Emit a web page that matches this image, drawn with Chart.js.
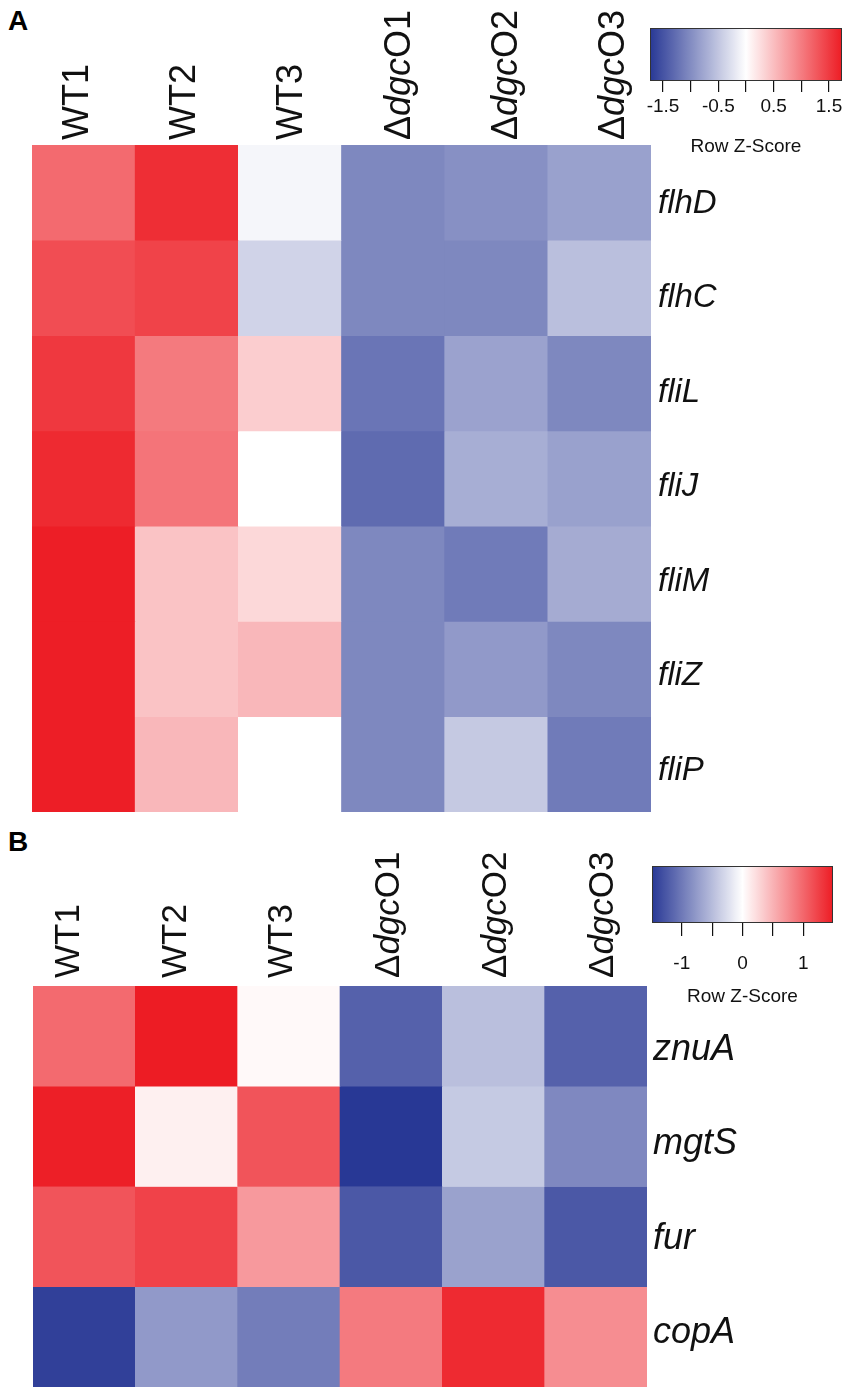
<!DOCTYPE html>
<html>
<head>
<meta charset="utf-8">
<script src="https://cdn.jsdelivr.net/npm/chart.js@4.4.1/dist/chart.umd.min.js"></script>
<style>
  html, body { margin: 0; padding: 0; background: #fff; }
  body { width: 851px; height: 1396px; position: relative; overflow: hidden; }
  canvas { position: absolute; }
  .tag { position: absolute; left: 8px; font: bold 28px "Liberation Sans", Arial, sans-serif; color: #000; line-height: 1; }
</style>
</head>
<body>
<div class="tag" style="top:7px">A</div>
<div class="tag" style="top:828px">B</div>

<canvas id="heatA" width="851" height="830" style="left:0;top:0"></canvas>
<canvas id="keyA" width="211" height="158" style="left:640px;top:0"></canvas>
<canvas id="heatB" width="851" height="566" style="left:0;top:830px"></canvas>
<canvas id="keyB" width="211" height="168" style="left:640px;top:840px"></canvas>

<script>
const FONT = '"Liberation Sans", Arial, sans-serif';

// columns (samples)
const samples = ["WT1", "WT2", "WT3", "\u0394dgcO1", "\u0394dgcO2", "\u0394dgcO3"];

// panel A: flagellar genes, row z-scores
const genesA = ["flhD", "flhC", "fliL", "fliJ", "fliM", "fliZ", "fliP"];
const flhD = [1.14, 1.60, -0.08, -1.04, -0.97, -0.82];
const flhC = [1.36, 1.44, -0.38, -1.04, -1.04, -0.56];
const fliL = [1.52, 1.02, 0.38, -1.20, -0.81, -1.04];
const fliJ = [1.63, 1.06, 0.00, -1.29, -0.71, -0.82];
const fliM = [1.72, 0.46, 0.30, -1.04, -1.15, -0.73];
const fliZ = [1.72, 0.46, 0.55, -1.04, -0.89, -1.04];
const fliP = [1.72, 0.55, 0.00, -1.04, -0.47, -1.15];
const zMaxA = 1.735;
const keyTicksA = [-1.5, -1, -0.5, 0, 0.5, 1, 1.5];

// panel B: metal homeostasis genes, row z-scores
const genesB = ["znuA", "mgtS", "fur", "copA"];
const znuA = [0.98, 1.49, 0.04, -1.18, -0.48, -1.18];
const mgtS = [1.47, 0.10, 1.12, -1.49, -0.40, -0.89];
const fur  = [1.12, 1.24, 0.67, -1.25, -0.70, -1.25];
const copA = [-1.43, -0.76, -0.97, 0.87, 1.40, 0.75];
const zMaxB = 1.49;
const keyTicksB = [-1, -0.5, 0, 0.5, 1];

// blue - white - red ramp
const LOW = [40, 56, 149], MID = [255, 255, 255], HIGH = [237, 28, 36];
function zColor(v, zmax) {
  let t = Math.max(-1, Math.min(1, v / zmax));
  const end = t < 0 ? LOW : HIGH;
  t = Math.abs(t);
  const c = MID.map((m, k) => Math.round(m + (end[k] - m) * t));
  return `rgb(${c[0]},${c[1]},${c[2]})`;
}

// sample label with italic gene name
function drawSampleLabel(ctx, text, size) {
  const m = text.match(/^(\u0394)(dgc)(.*)$/);
  const parts = m ? [[m[1], ""], [m[2], "italic "], [m[3], ""]] : [[text, ""]];
  let x = 0;
  parts.forEach(([t, st]) => {
    ctx.font = `${st}${size}px ${FONT}`;
    ctx.fillText(t, x, 0);
    x += ctx.measureText(t).width;
  });
}

const labelPlugin = {
  id: "heatLabels",
  afterDraw(chart, args, o) {
    const { ctx, chartArea, scales: { x, y } } = chart;
    ctx.save();
    ctx.fillStyle = "#111";
    ctx.textAlign = "left";
    ctx.textBaseline = "alphabetic";
    samples.forEach((s, i) => {
      const px = x.getPixelForValue(i * o.colStep) + o.colShift;
      ctx.save();
      ctx.translate(px, chartArea.top - o.colGap);
      ctx.rotate(-Math.PI / 2);
      drawSampleLabel(ctx, s, o.colFont);
      ctx.restore();
    });
    ctx.font = `italic ${o.rowFont}px ${FONT}`;
    o.genes.forEach((g, i) => {
      ctx.fillText(g, chartArea.right + o.rowGap, y.getPixelForValue(0.5 + i * o.rowStep) + o.rowShift);
    });
    ctx.restore();
  }
};

function heatmap(id, genes, rows, zmax, pad, lab) {
  const datasets = rows.map((vals, i) => ({
    label: genes[i],
    data: vals.map(() => 1),
    backgroundColor: vals.map(v => zColor(v, zmax)),
    borderWidth: 0,
    barPercentage: 1,
    categoryPercentage: 1
  }));
  return new Chart(document.getElementById(id), {
    type: "bar",
    data: { labels: samples, datasets },
    options: {
      responsive: false,
      animation: false,
      layout: { padding: pad },
      plugins: {
        legend: { display: false },
        tooltip: { enabled: false },
        heatLabels: Object.assign({ genes }, lab)
      },
      scales: {
        x: { display: false, stacked: true },
        y: { display: false, stacked: true, min: 0, max: genes.length, reverse: true }
      }
    },
    plugins: [labelPlugin]
  });
}

const keyPlugin = {
  id: "keyFill",
  beforeDatasetsDraw(chart, args, o) {
    const { ctx, chartArea: a, scales: { x } } = chart;
    const g = ctx.createLinearGradient(a.left, 0, a.right, 0);
    const n = 60;
    for (let k = 0; k <= n; k++) {
      const v = x.min + (x.max - x.min) * k / n;
      g.addColorStop(k / n, zColor(v, o.zmax));
    }
    ctx.save();
    ctx.fillStyle = g;
    ctx.fillRect(a.left, a.top, a.width, a.height);
    ctx.strokeStyle = "#333";
    ctx.lineWidth = 1;
    ctx.strokeRect(a.left + 0.5, a.top + 0.5, a.width - 1, a.height - 1);
    ctx.restore();
  }
};

function colorKey(id, zmax, ticks, fmt, pad, axisH, tickLen, tickPad) {
  return new Chart(document.getElementById(id), {
    type: "scatter",
    data: { datasets: [{ data: [] }] },
    options: {
      responsive: false,
      animation: false,
      layout: { padding: pad },
      plugins: { legend: { display: false }, tooltip: { enabled: false }, keyFill: { zmax } },
      scales: {
        x: {
          type: "linear",
          min: -zmax,
          max: zmax,
          afterBuildTicks: s => { s.ticks = ticks.map(v => ({ value: v })); },
          afterFit: s => { s.height = axisH; },
          grid: { display: true, drawOnChartArea: false, drawTicks: true, tickLength: tickLen, color: "#111", lineWidth: 1.2 },
          border: { display: false },
          ticks: { autoSkip: false, maxRotation: 0, padding: tickPad, color: "#111", font: { size: 19, family: FONT }, callback: fmt },
          title: { display: true, text: "Row Z-Score", color: "#111", font: { size: 19, family: FONT }, padding: 0 }
        },
        y: { display: false, min: 0, max: 1 }
      }
    },
    plugins: [keyPlugin]
  });
}

heatmap("heatA", genesA, [flhD, flhC, fliL, fliJ, fliM, fliZ, fliP], zMaxA,
  { left: 32, top: 145, right: 200, bottom: 18 },
  { colStep: 1.039, colShift: 4.5, colGap: 5, colFont: 36, rowFont: 33, rowGap: 7, rowStep: 0.992, rowShift: 20 });

heatmap("heatB", genesB, [znuA, mgtS, fur, copA], zMaxB,
  { left: 33, top: 156, right: 204, bottom: 9 },
  { colStep: 1.044, colShift: -5.5, colGap: 8, colFont: 35, rowFont: 36, rowGap: 6, rowStep: 0.94, rowShift: 24 });

colorKey("keyA", zMaxA, keyTicksA, v => [-1.5, -0.5, 0.5, 1.5].includes(v) ? v.toFixed(1) : "",
  { left: 10, right: 9, top: 28, bottom: 0 }, 77, 11, 3);

colorKey("keyB", zMaxB, keyTicksB, v => Number.isInteger(v) ? String(v) : "",
  { left: 12, right: 18, top: 26, bottom: 0 }, 85, 13, 16);
</script>
</body>
</html>
